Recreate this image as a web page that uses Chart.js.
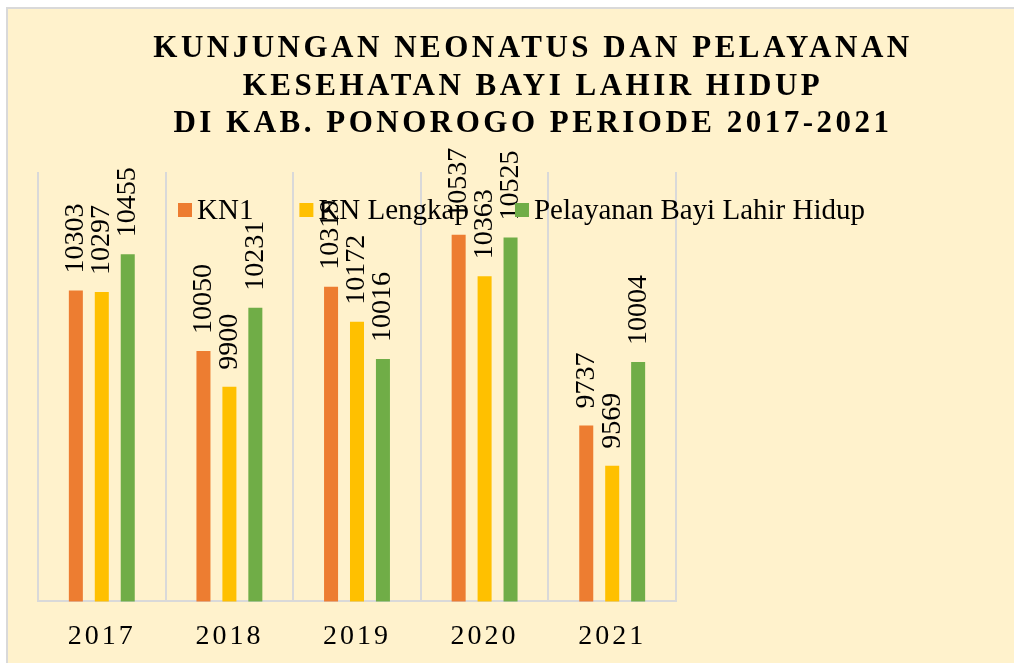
<!DOCTYPE html>
<html>
<head>
<meta charset="utf-8">
<script src="https://cdn.jsdelivr.net/npm/chart.js@4"></script>
<style>
  html, body { margin: 0; padding: 0; background: #fff; width: 1014px; height: 663px; overflow: hidden; }
  #box {
    position: absolute; left: 6px; top: 7px;
    width: 1006px; height: 654px;
    background: #FFF2CC;
    border-left: 2px solid #d9d9d9; border-top: 2px solid #d9d9d9;
  }
</style>
</head>
<body>
<div id="box"><canvas id="chart" width="1006" height="654"></canvas></div>
<script>
const years = ['2017', '2018', '2019', '2020', '2021'];
const kn1 = [10303, 10050, 10319, 10537, 9737];
const knLengkap = [10297, 9900, 10172, 10363, 9569];
const pelayanan = [10455, 10231, 10016, 10525, 10004];
const titleLines = [
  'KUNJUNGAN NEONATUS DAN PELAYANAN',
  'KESEHATAN BAYI LAHIR HIDUP',
  'DI KAB. PONOROGO PERIODE 2017-2021'
];

const serif = '"Liberation Serif", "Times New Roman", serif';

// value labels, rotated like the Excel original
const valueLabels = {
  id: 'valueLabels',
  afterDatasetsDraw(chart) {
    const ctx = chart.ctx;
    ctx.save();
    ctx.letterSpacing = '0px';
    ctx.font = '28px ' + serif;
    ctx.fillStyle = '#000';
    ctx.textAlign = 'left';
    ctx.textBaseline = 'middle';
    chart.data.datasets.forEach((ds, i) => {
      chart.getDatasetMeta(i).data.forEach((bar, j) => {
        ctx.save();
        ctx.translate(bar.x, bar.y - 17);
        ctx.rotate(-Math.PI / 2);
        ctx.fillText(String(ds.data[j]), 0, 0);
        ctx.restore();
      });
    });
    ctx.restore();
  }
};

// legend and title drawn on top, legend overlaps the plot
const overlay = {
  id: 'overlay',
  beforeDraw(chart) {
    chart.ctx.letterSpacing = '3px';
  },
  afterDraw(chart) {
    const ctx = chart.ctx;
    ctx.save();
    ctx.letterSpacing = '0px';
    ctx.font = '29px ' + serif;
    ctx.textBaseline = 'middle';
    ctx.textAlign = 'left';
    let x = 170;
    const y = 201;
    chart.data.datasets.forEach(ds => {
      ctx.fillStyle = ds.backgroundColor;
      ctx.fillRect(x, y - 7, 14, 14);
      ctx.fillStyle = '#000';
      ctx.fillText(ds.label, x + 19, y + 1);
      x += 19 + ctx.measureText(ds.label).width + 46;
    });

    ctx.font = 'bold 31px ' + serif;
    ctx.letterSpacing = '3.5px';
    ctx.textAlign = 'center';
    ctx.fillStyle = '#000';
    titleLines.forEach((line, i) => {
      ctx.fillText(line, 525, 40 + i * 37.5);
    });
    ctx.restore();
    ctx.letterSpacing = '0px';
  }
};

new Chart(document.getElementById('chart'), {
  type: 'bar',
  data: {
    labels: years,
    datasets: [
      { label: 'KN1', data: kn1, backgroundColor: '#ED7D31' },
      { label: 'KN Lengkap', data: knLengkap, backgroundColor: '#FFC000' },
      { label: 'Pelayanan Bayi Lahir Hidup', data: pelayanan, backgroundColor: '#70AD47' },
    ],
  },
  options: {
    responsive: false,
    animation: false,
    layout: {
      padding: { left: 30, right: 338, top: 163, bottom: -8 },
    },
    datasets: {
      bar: { categoryPercentage: 0.61, barPercentage: 0.54 },
    },
    plugins: {
      legend: { display: false },
      title: { display: false },
      tooltip: { enabled: false },
    },
    scales: {
      x: {
        grid: { color: '#d9d9d9', lineWidth: 2, drawTicks: false, offset: true },
        border: { color: '#d9d9d9', width: 2 },
        ticks: {
          color: '#000',
          font: { family: serif, size: 28 },
          padding: 18,
          maxRotation: 0,
        },
      },
      y: {
        display: false,
        min: 9000,
        max: 10800,
      },
    },
  },
  plugins: [valueLabels, overlay],
});
</script>
</body>
</html>
